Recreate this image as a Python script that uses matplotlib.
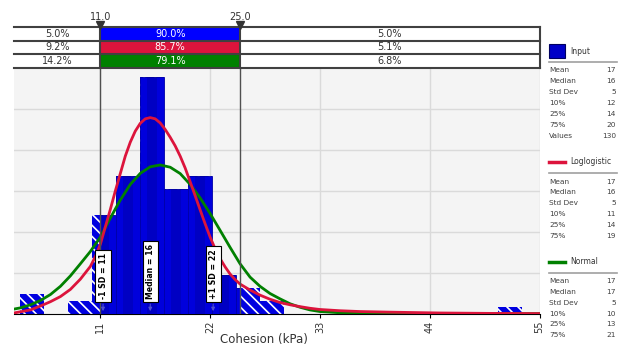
import matplotlib.pyplot as plt
from matplotlib.patches import Rectangle
from matplotlib.lines import Line2D
import numpy as np

# data
n_values = 130
bin_width = 2.4
bin_left = [3.0, 7.8, 10.2, 12.6, 15.0, 17.4, 19.8, 22.2, 24.6, 27.0, 50.8]
bin_count = [3, 2, 15, 21, 36, 19, 21, 6, 4, 2, 1]

# fitted curves (x, density)
logl_x = [2.35, 4, 5, 6, 7, 8, 9, 10, 10.5, 11, 11.5, 12, 12.5, 13, 13.5, 14, 14.5, 15, 15.5,
          16, 16.5, 17, 17.5, 18, 18.5, 19, 19.5, 20, 20.5, 21, 21.5, 22, 22.5, 23, 23.5, 24,
          24.5, 25, 26, 27, 28, 29, 30, 31, 32, 33, 35, 37, 40, 45, 50, 55]
logl_y = [0.0005, 0.0020, 0.0039, 0.0060, 0.0085, 0.0120, 0.0170, 0.0232, 0.0280, 0.0340,
          0.0425, 0.0510, 0.0600, 0.0685, 0.0770, 0.0838, 0.0892, 0.0930, 0.0952, 0.0958,
          0.0952, 0.0932, 0.0900, 0.0862, 0.0820, 0.0770, 0.0712, 0.0645, 0.0577, 0.0508,
          0.0440, 0.0375, 0.0318, 0.0270, 0.0230, 0.0195, 0.0168, 0.0146, 0.0117, 0.0092,
          0.0072, 0.0056, 0.0045, 0.0036, 0.0028, 0.0022, 0.0016, 0.0012, 0.0009, 0.0005,
          0.0003, 0.0002]
norm_x = [2.35, 3, 4, 5, 6, 7, 8, 9, 10, 11, 12, 13, 14, 15, 16, 17, 18, 19, 20, 21, 22, 23,
          24, 25, 26, 27, 28, 29, 30, 31, 32, 33, 35, 38, 45, 55]
norm_y = [0.0024, 0.0030, 0.0045, 0.0066, 0.0095, 0.0135, 0.0186, 0.0245, 0.0305, 0.0375,
          0.0468, 0.0556, 0.0632, 0.0686, 0.0718, 0.0727, 0.0716, 0.0685, 0.0632, 0.0566,
          0.0490, 0.0408, 0.0325, 0.0245, 0.0180, 0.0135, 0.0100, 0.0074, 0.0050, 0.0033,
          0.0020, 0.0012, 0.0006, 0.0003, 0.0002, 0.0002]

left_lim, right_lim = 11.0, 25.0
row_names = ['Input', 'Loglogistic', 'Normal']
row_colors = ['#0000FF', '#DC143C', '#008000']
left_pct = ['5.0%', '9.2%', '14.2%']
mid_pct = ['90.0%', '85.7%', '79.1%']
right_pct = ['5.0%', '5.1%', '6.8%']

marker_x = [11.27, 16.0, 22.3]
marker_text = ['-1 SD = 11', 'Median = 16', '+1 SD = 22']

stat_names = ['Mean', 'Median', 'Std Dev', '10%', '25%', '75%', 'Values']
input_stats = ['17', '16', '5', '12', '14', '20', '130']
logl_stats = ['17', '16', '5', '11', '14', '19']
norm_stats = ['17', '17', '5', '10', '13', '21']

xticks = [11, 22, 33, 44, 55]
xmin, xmax = 2.35, 55

W, H = 625, 347
def fx(px):
    return px / W
def fy(py):
    return 1 - py / H

plt.rcParams['font.family'] = 'DejaVu Sans'
plt.rcParams['hatch.linewidth'] = 1.2
fig = plt.figure(figsize=(W / 100, H / 100), dpi=100)

ax = fig.add_axes([fx(14), fy(314), fx(539.5) - fx(14), fy(68) - fy(314)])
ax.set_facecolor('#F4F4F4')
ax.set_xlim(xmin, xmax)
ax.set_ylim(0, 0.12)
ax.set_yticks([0.02, 0.04, 0.06, 0.08, 0.10])
ax.tick_params(axis='y', left=False, labelleft=False)
ax.set_xticks(xticks)
ax.set_xticklabels([str(t) for t in xticks], rotation=90, fontsize=7, color='#333333')
ax.tick_params(axis='x', length=3, width=0.8, pad=2)
ax.grid(True, color='#DADADA', lw=1)
ax.set_axisbelow(True)
for s in ['left', 'right', 'top']:
    ax.spines[s].set_visible(False)
ax.spines['bottom'].set_color('black')

# histogram bars as density
heights = np.array(bin_count) / (n_values * bin_width)
ax.bar(bin_left, heights, width=bin_width, align='edge', color='#0000E0',
       edgecolor='white', hatch='\\\\\\', lw=0, zorder=2)
solid = ax.bar(bin_left, heights, width=bin_width, align='edge', color='#0000DC',
               edgecolor='#0000A8', lw=0.6, zorder=3)
clip = Rectangle((left_lim, 0), right_lim - left_lim, 1, transform=ax.transData)
for p in solid:
    p.set_clip_path(clip)
# darker centre stripes
stripes = ax.bar(np.array(bin_left) + bin_width * 0.3, heights, width=bin_width * 0.4,
                 align='edge', color='#00008C', alpha=0.3, lw=0, zorder=3)
for p in stripes:
    p.set_clip_path(clip)

ax.plot(norm_x, norm_y, color='#008000', lw=2.0, zorder=5)
ax.plot(logl_x, logl_y, color='#DC143C', lw=2.0, zorder=6)

ax.axvline(left_lim, color='#505050', lw=1, zorder=7)
ax.axvline(right_lim, color='#505050', lw=1, zorder=7)

for mx, mt in zip(marker_x, marker_text):
    ax.text(mx, 0.0074, mt, rotation=90, ha='center', va='bottom', fontsize=5.6,
            fontweight='bold', color='black', zorder=9,
            bbox=dict(boxstyle='square,pad=0.4', fc='white', ec='black', lw=0.8))
    ax.annotate('', xy=(mx, 0), xytext=(mx, 0.0062),
                arrowprops=dict(arrowstyle='-|>', color='#5050D0', lw=0.8, mutation_scale=5),
                zorder=9)

fig.text(fx(264), fy(340), 'Cohesion (kPa)', ha='center', va='center', fontsize=8.5,
         color='#333333')

# delimiter table on top
tab = fig.add_axes([fx(14), fy(68), fx(539.5) - fx(14), fy(27) - fy(68)])
tab.set_xlim(xmin, xmax)
tab.set_ylim(0, 3)
tab.axis('off')
for i in range(3):
    y0 = 2 - i
    tab.add_patch(Rectangle((left_lim, y0), right_lim - left_lim, 1, fc=row_colors[i], ec='none'))
    tab.text((xmin + left_lim) / 2, y0 + 0.5, left_pct[i], ha='center', va='center',
             fontsize=7, color='#333333')
    tab.text((left_lim + right_lim) / 2, y0 + 0.5, mid_pct[i], ha='center', va='center',
             fontsize=7, color='white')
    tab.text((right_lim + xmax) / 2, y0 + 0.5, right_pct[i], ha='center', va='center',
             fontsize=7, color='#333333')
for y in [0, 1, 2, 3]:
    tab.plot([xmin, xmax], [y, y], color='#404040', lw=1.5, clip_on=False)
for x in [left_lim, right_lim, xmax]:
    tab.plot([x, x], [0, 3], color='#404040', lw=1.5, clip_on=False)
tab.plot([left_lim, right_lim], [3.15, 3.15], ls='none', marker='v', ms=6,
         color='#333333', clip_on=False)
tab.text(left_lim, 3.75, '11.0', ha='center', va='center', fontsize=7, color='#333333')
tab.text(right_lim, 3.75, '25.0', ha='center', va='center', fontsize=7, color='#333333')

# side legend
def legend_block(title, head_y, stats, kind, color):
    if kind == 'box':
        fig.add_artist(Rectangle((fx(549), fy(head_y + 7)), fx(16), 14 / H,
                                 transform=fig.transFigure, fc=color, ec='#000060', lw=0.8))
    else:
        fig.add_artist(Line2D([fx(549), fx(565)], [fy(head_y)] * 2, color=color, lw=2.5,
                              transform=fig.transFigure))
    fig.text(fx(570), fy(head_y), title, ha='left', va='center', fontsize=5.5, color='#333333')
    fig.add_artist(Line2D([fx(549), fx(617)], [fy(head_y + 11)] * 2, color='#A0A0A0', lw=1.2,
                          transform=fig.transFigure))
    for k, v in enumerate(stats):
        yy = head_y + 19.5 + k * 10.85
        fig.text(fx(549), fy(yy), stat_names[k], ha='left', va='center', fontsize=5.3,
                 color='#404040')
        fig.text(fx(616), fy(yy), v, ha='right', va='center', fontsize=5.3, color='#404040')

legend_block(row_names[0], 51, input_stats, 'box', '#0000C8')
legend_block(row_names[1], 162, logl_stats, 'line', '#DC143C')
legend_block(row_names[2], 261.5, norm_stats, 'line', '#008000')

fig.savefig('out.png', dpi=100)
